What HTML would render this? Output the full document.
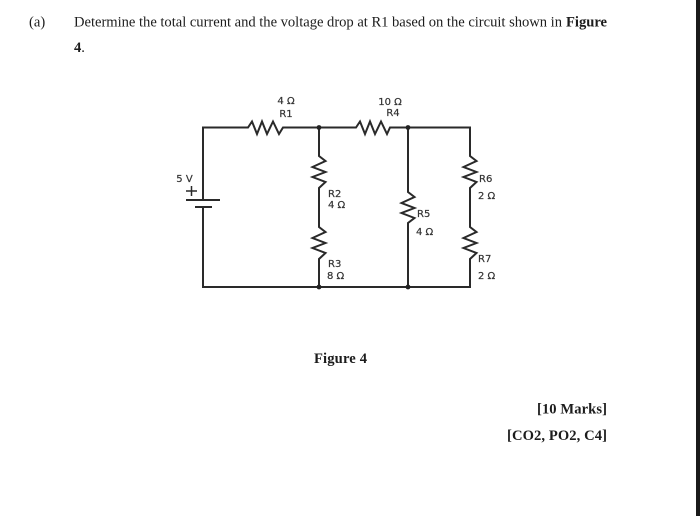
<!DOCTYPE html>
<html>
<head>
<meta charset="utf-8">
<style>
html,body{margin:0;padding:0;background:#fff}
#p{position:relative;width:700px;height:516px;overflow:hidden;background:#fff}
svg{position:absolute;left:0;top:0;filter:blur(.35px)}
</style>
</head>
<body>
<div id="p">
<svg width="700" height="516" viewBox="0 0 700 516">
<rect x="696" y="0" width="4" height="516" fill="#1a1a1a"/>
<g font-family="'Liberation Serif',serif" font-size="14.6" fill="#1c1c1c">
<text x="29" y="26.500">(a)</text>
<text x="74" y="26.500" textLength="488" lengthAdjust="spacing">Determine the total current and the voltage drop at R1 based on the circuit shown in</text>
<text x="566" y="26.500" font-weight="bold" textLength="41" lengthAdjust="spacing">Figure</text>
<text x="74" y="52"><tspan font-weight="bold">4</tspan>.</text>
<text x="314" y="363" font-weight="bold" textLength="53" lengthAdjust="spacing">Figure 4</text>
<text x="537" y="413.500" font-weight="bold" textLength="70" lengthAdjust="spacing">[10 Marks]</text>
<text x="507" y="440" font-weight="bold" textLength="100" lengthAdjust="spacing">[CO2, PO2, C4]</text>
</g>
<g fill="none" stroke="#2a2a2a" stroke-width="2" stroke-linejoin="miter">
<path d="M203 200V127.500H248L252 121.500 257 134 262 121.500 267 134 273 121.500 279 134 283 127.500H356L360 121.500 365 134 370 121.500 375 134 381 121.500 387 134 390 127.500H470V156L476.500 161 463.500 167 476.500 172 463.500 177 476.500 182 470 188V227L476.500 232 463.500 238 476.500 243 463.500 248 476.500 253 470 259V287H203V207"/>
<path d="M319 127.500V156L325.500 161 312.500 167 325.500 172 312.500 177 325.500 182 319 188V227L325.500 232 312.500 238 325.500 243 312.500 248 325.500 253 319 259V287"/>
<path d="M408 127.500V192L414.500 197 401.500 203 414.500 208 401.500 213 414.500 218 408 223V287"/>
<path d="M186 200H220M195 207H212"/>
<path d="M186 191H197M191.500 186V196" stroke-width="1.500"/>
</g>
<g fill="#222">
<circle cx="319" cy="127.500" r="2.400"/>
<circle cx="408" cy="127.500" r="2.400"/>
<circle cx="319" cy="287" r="2.400"/>
<circle cx="408" cy="287" r="2.400"/>
</g>
<g font-family="'DejaVu Sans','Liberation Sans',sans-serif" font-size="10" fill="#333" stroke="#333" stroke-width=".2">
<text x="286" y="104" text-anchor="middle">4 Ω</text>
<text x="286" y="117" text-anchor="middle">R1</text>
<text x="390" y="105" text-anchor="middle">10 Ω</text>
<text x="393" y="116" text-anchor="middle">R4</text>
<text x="184.500" y="182" text-anchor="middle">5 V</text>
<text x="328" y="197">R2</text>
<text x="328" y="208">4 Ω</text>
<text x="328" y="267">R3</text>
<text x="327" y="279">8 Ω</text>
<text x="417" y="217">R5</text>
<text x="416" y="235">4 Ω</text>
<text x="479" y="182">R6</text>
<text x="478" y="199">2 Ω</text>
<text x="478" y="262">R7</text>
<text x="478" y="279">2 Ω</text>
</g>
</svg>
</div>
</body>
</html>
